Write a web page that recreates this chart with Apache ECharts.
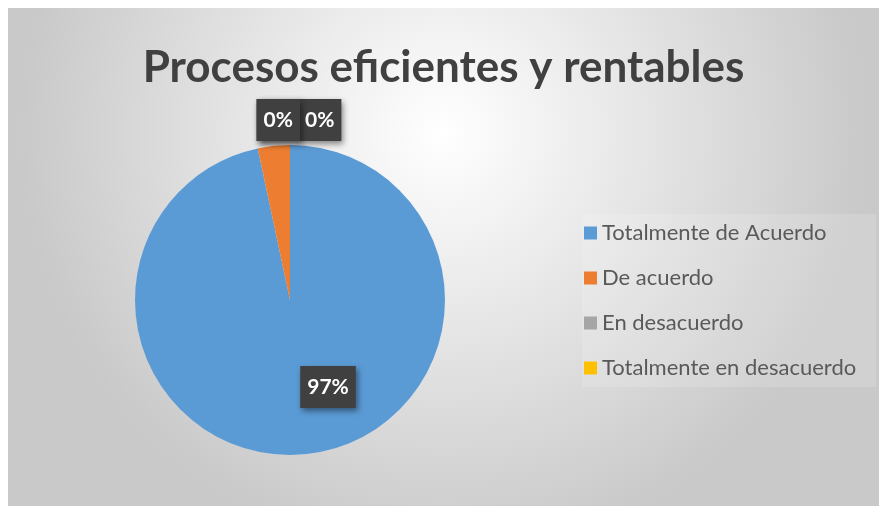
<!DOCTYPE html>
<html lang="es">

<head>
  <meta charset="UTF-8">
  <title>Procesos eficientes y rentables</title>
  <script src="https://cdn.jsdelivr.net/npm/echarts@6/dist/echarts.min.js"></script>
  <style>
    body {
      margin: 0;
      background: #fff;
    }

    #chart {
      position: absolute;
      left: 8px;
      top: 8px;
      width: 871px;
      height: 498px;
    }
  </style>
</head>

<body>
  <div id="chart"></div>
  <script>
    let titleText = 'Procesos eficientes y rentables';
    let categories = ['Totalmente de Acuerdo', 'De acuerdo', 'En desacuerdo', 'Totalmente en desacuerdo'];
    let values = [29, 1, 0, 0];
    let colors = ['#5b9bd5', '#ed7d31', '#a5a5a5', '#ffc000'];

    let cx = 282, cy = 292, r = 155;

    let chart = echarts.init(document.getElementById('chart'));

    let labelBox = {
      color: '#fff',
      fontFamily: 'Lato',
      fontWeight: 'bold',
      fontSize: 21,
      backgroundColor: '#404040',
      padding: [11, 7, 10, 7],
      shadowColor: 'rgba(0,0,0,0.45)',
      shadowBlur: 6,
      shadowOffsetX: 2,
      shadowOffsetY: 3
    };

    let option = {
      backgroundColor: {
        type: 'radial', x: 0.5, y: 0.25, r: 0.85,
        colorStops: [
          { offset: 0, color: '#ffffff' },
          { offset: 1, color: '#c9c9c9' }
        ]
      },
      color: colors,
      title: {
        text: titleText,
        left: 'center',
        top: 33,
        textStyle: {
          fontFamily: 'Lato',
          fontWeight: 'bold',
          fontSize: 44,
          color: '#404040'
        }
      },
      legend: {
        orient: 'vertical',
        left: 574,
        top: 206,
        itemWidth: 13,
        itemHeight: 13,
        itemGap: 23,
        padding: [8, 20, 8, 2],
        icon: 'rect',
        backgroundColor: 'rgba(255,255,255,0.15)',
        textStyle: {
          fontFamily: 'Lato',
          fontSize: 22,
          lineHeight: 20,
          color: '#595959'
        },
        data: categories
      },
      series: [{
        type: 'pie',
        center: [cx, cy],
        radius: r,
        startAngle: 90,
        clockwise: true,
        avoidLabelOverlap: false,
        stillShowZeroSum: true,
        label: Object.assign({
          show: true,
          position: 'outside',
          formatter: p => Math.round(p.percent) + '%'
        }, labelBox),
        labelLine: { show: false, length: 25, length2: 8 },
        labelLayout: function (p) {
          if (p.dataIndex === 0) {
            return { x: cx + 38, y: cy + 87, align: 'center', verticalAlign: 'middle' };
          }
          if (p.dataIndex === 2) {
            return { x: cx + 8, y: cy - r - 25, align: 'left', verticalAlign: 'middle' };
          }
          return { x: cx + 10, y: cy - r - 25, align: 'right', verticalAlign: 'middle' };
        },
        emphasis: { disabled: true },
        data: categories.map((c, i) => ({
          name: c,
          value: values[i]
        }))
      }]
    };

    chart.setOption(option);
  </script>
</body>

</html>
